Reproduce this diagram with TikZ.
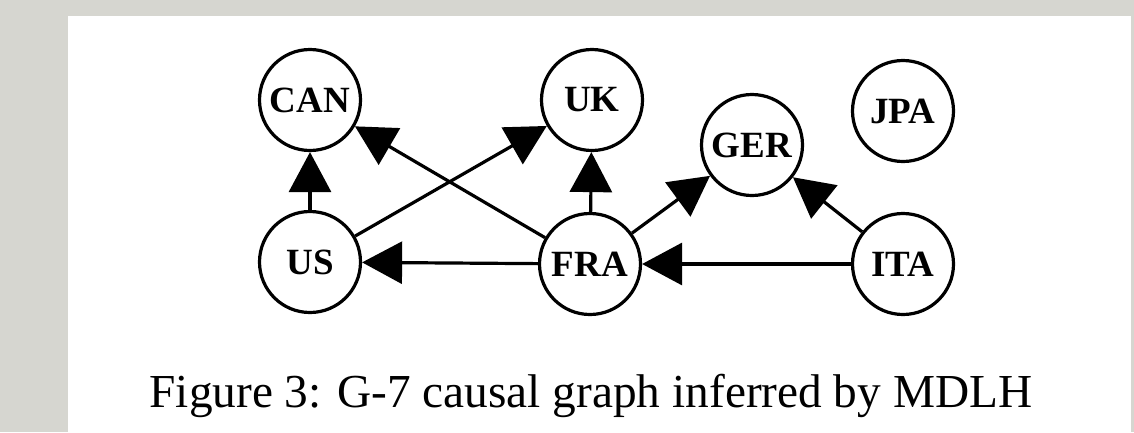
\documentclass[tikz,border=0pt]{standalone}
\usepackage{fontspec}
\setmainfont{Liberation Serif}
\usetikzlibrary{arrows.meta}
\definecolor{bggray}{HTML}{D6D6D0}
\begin{document}
\begin{tikzpicture}[x=1pt,y=-1pt,
  country/.style={circle,draw,line width=3.2pt,minimum size=101pt,inner sep=0pt,font=\fontsize{37}{40}\selectfont\bfseries},
  edge/.style={line width=3.2pt,-{Triangle[length=40pt,width=42pt]}}]
\fill[bggray] (0,0) rectangle (1134,432);
\fill[white] (68,16) rectangle (1131,432);
\useasboundingbox (0,0) rectangle (1134,432);
\node[country] (CAN) at (310,100) {CAN};
\node[country] (UK) at (592,100) {UK};
\node[country] (GER) at (752,145) {GER};
\node[country] (JPA) at (903,111) {JPA};
\node[country] (US) at (310,262) {US};
\node[country] (FRA) at (590,264) {FRA};
\node[country] (ITA) at (903,264) {ITA};
\draw[edge] (US) -- (CAN);
\draw[edge] (FRA) -- (CAN);
\draw[edge] (US) -- (UK);
\draw[edge] (FRA) -- (UK);
\draw[edge] (FRA) -- (US);
\draw[edge] (FRA) -- (GER);
\draw[edge] (ITA) -- (GER);
\draw[edge] (ITA) -- (FRA);
\node[font=\fontsize{47.3}{50}\selectfont,anchor=base] (cap) at (591,407) {Figure 3: G-7 causal graph inferred by MDLH};
\end{tikzpicture}
\end{document}
